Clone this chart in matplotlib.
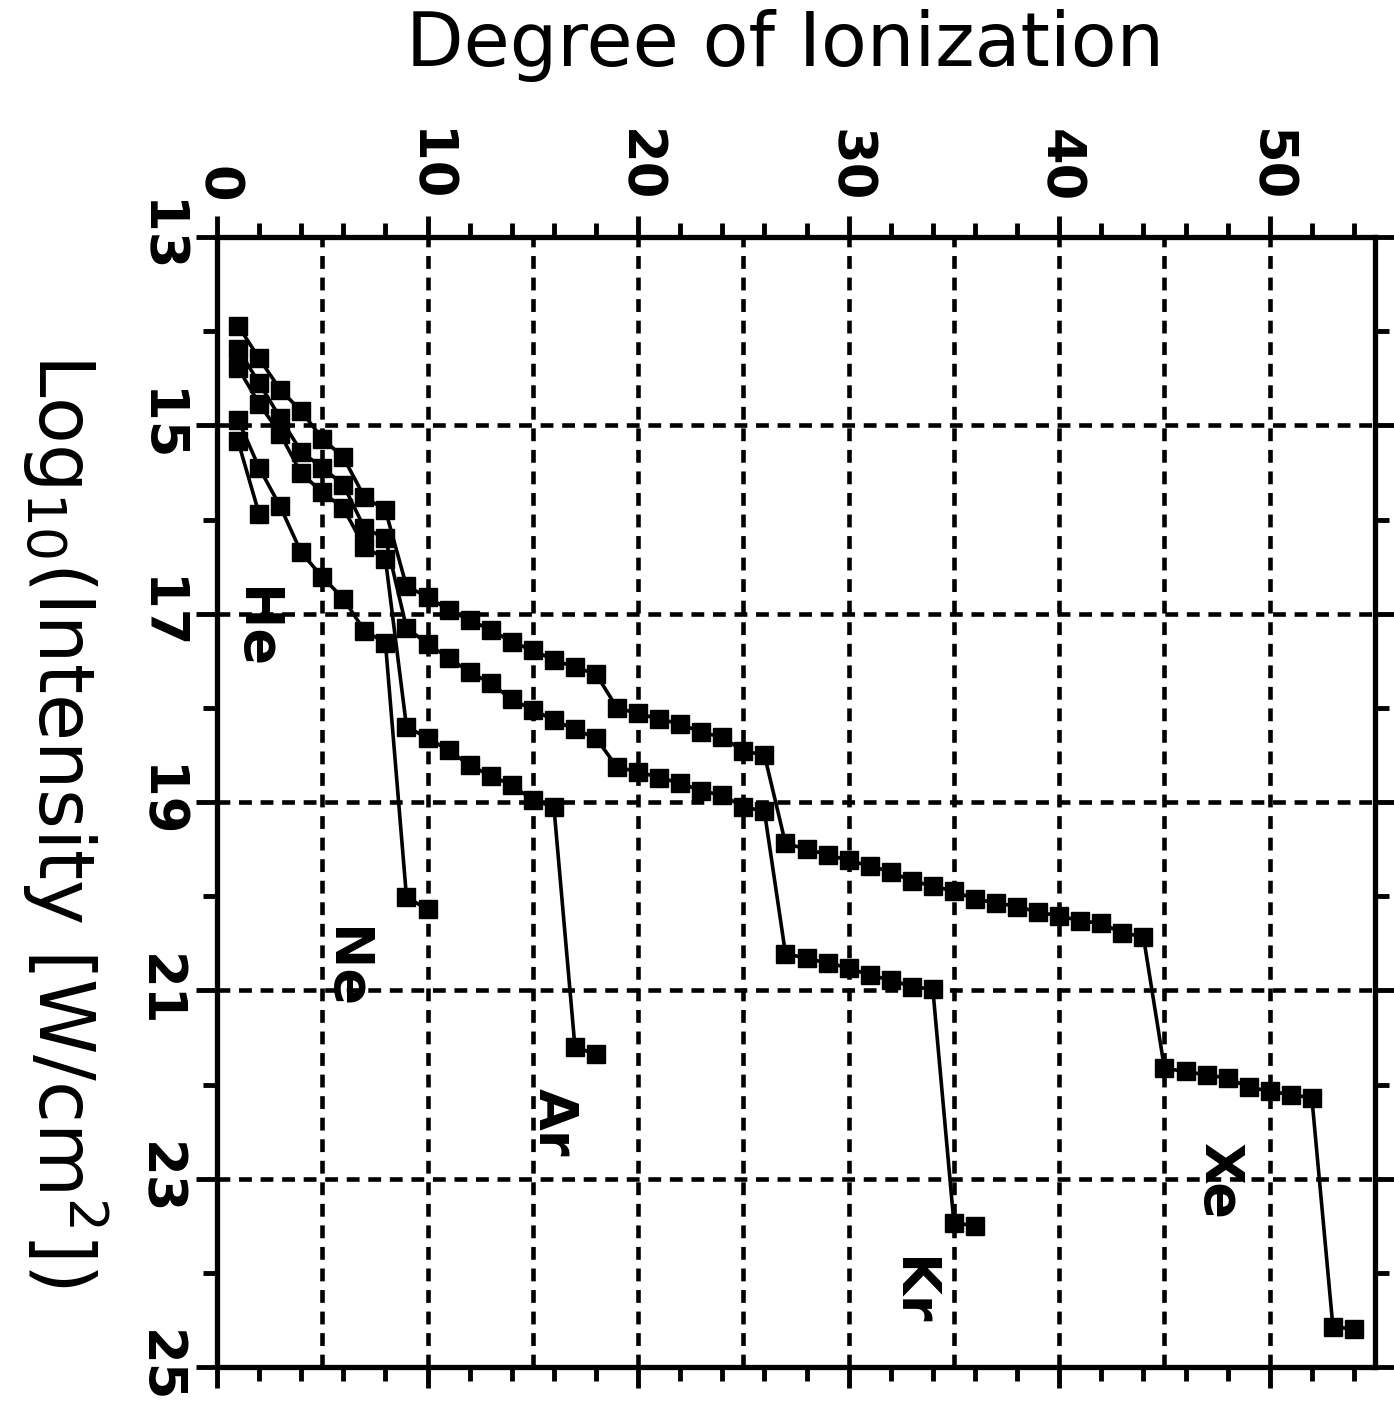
import matplotlib
matplotlib.use("Agg")
import matplotlib.pyplot as plt
import numpy as np

plt.rcParams["mathtext.default"] = "regular"

# appearance intensities, log10 W/cm^2 (one per charge state)
he_y = [15.17, 15.94]
ne_y = [14.94, 15.45, 15.86, 16.35, 16.61, 16.84, 17.18, 17.31, 20.01, 20.14]
ar_y = [14.39, 14.77, 15.09, 15.51, 15.71, 15.88, 16.29, 16.42, 18.20, 18.32,
        18.45, 18.61, 18.72, 18.82, 18.98, 19.05, 21.60, 21.68]
kr_y = [14.19, 14.55, 14.92, 15.28, 15.45, 15.63, 16.09, 16.20, 17.15, 17.32,
        17.47, 17.62, 17.74, 17.91, 18.02, 18.13, 18.23, 18.32, 18.63, 18.68,
        18.74, 18.80, 18.88, 18.93, 19.05, 19.10, 20.61, 20.66, 20.71, 20.76,
        20.84, 20.89, 20.96, 20.99, 23.47, 23.50]
xe_y = [13.94, 14.29, 14.62, 14.85, 15.14, 15.34, 15.76, 15.90, 16.71, 16.82,
        16.96, 17.07, 17.17, 17.30, 17.39, 17.49, 17.57, 17.64, 18.00, 18.06,
        18.12, 18.17, 18.26, 18.31, 18.46, 18.50, 19.44, 19.50, 19.56, 19.62,
        19.68, 19.74, 19.84, 19.89, 19.95, 20.03, 20.07, 20.11, 20.17, 20.21,
        20.26, 20.29, 20.39, 20.43, 21.83, 21.86, 21.90, 21.93, 22.03, 22.07,
        22.11, 22.14, 24.57, 24.60]

series = {"He": he_y, "Ne": ne_y, "Ar": ar_y, "Kr": kr_y, "Xe": xe_y}
label_pos = {"He": (1.8, 17.15), "Ne": (6.1, 20.76), "Ar": (16.0, 22.4),
             "Kr": (33.0, 24.2), "Xe": (47.6, 23.03)}

x_ticks = [0, 10, 20, 30, 40, 50]
y_ticks = [13, 15, 17, 19, 21, 23, 25]
x_grid = [5, 10, 15, 20, 25, 30, 35, 40, 45, 50]
y_grid = [15, 17, 19, 21, 23]

W, H = 1394, 1404
fig = plt.figure(figsize=(W / 100, H / 100), dpi=100)
ax = fig.add_axes([217 / W, 1 - 1367 / H, (1375 - 217) / W, (1367 - 237) / H])

for g in x_grid:
    ax.axvline(g, color="black", lw=3.3, ls=(0, (2.8, 1.9)), zorder=1)
for g in y_grid:
    ax.axhline(g, color="black", lw=3.3, ls=(0, (2.8, 1.9)), zorder=1)

for name, ys in series.items():
    xs = np.arange(1, len(ys) + 1)
    ax.plot(xs, ys, color="black", lw=2.6, marker="s", ms=13.5, zorder=3)
    lx, ly = label_pos[name]
    ax.text(lx, ly, name, rotation=-90, ha="center", va="center",
            fontsize=39, fontweight="bold", zorder=4)

ax.set_xlim(0, 55)
ax.set_ylim(25, 13)

ax.xaxis.tick_top()
ax.set_xticks(x_ticks)
ax.set_xticks(np.arange(0, 56, 2), minor=True)
ax.set_yticks(y_ticks)
ax.set_yticks(np.arange(13, 26, 1), minor=True)
ax.tick_params(axis="both", which="both", direction="out", top=True,
               bottom=True, left=True, right=True, width=3.5, color="black")
ax.tick_params(axis="both", which="major", length=15)
ax.tick_params(axis="both", which="minor", length=10)
ax.tick_params(axis="x", labelrotation=-90, labelsize=38, pad=10)
ax.tick_params(axis="y", labelrotation=-90, labelsize=38, pad=8)
for lab in ax.get_xticklabels() + ax.get_yticklabels():
    lab.set_fontweight("bold")
for lab in ax.get_yticklabels():
    lab.set_va("center")

for s in ax.spines.values():
    s.set_linewidth(3.8)

fig.text(785 / W, 1 - 45 / H, "Degree of Ionization", ha="center",
         va="center", fontsize=54)
fig.text(65 / W, 1 - 820 / H, r"Log$_{10}$(Intensity [W/cm$^2$])",
         rotation=-90, ha="center", va="center", fontsize=55)

fig.savefig("out.png", dpi=100)
